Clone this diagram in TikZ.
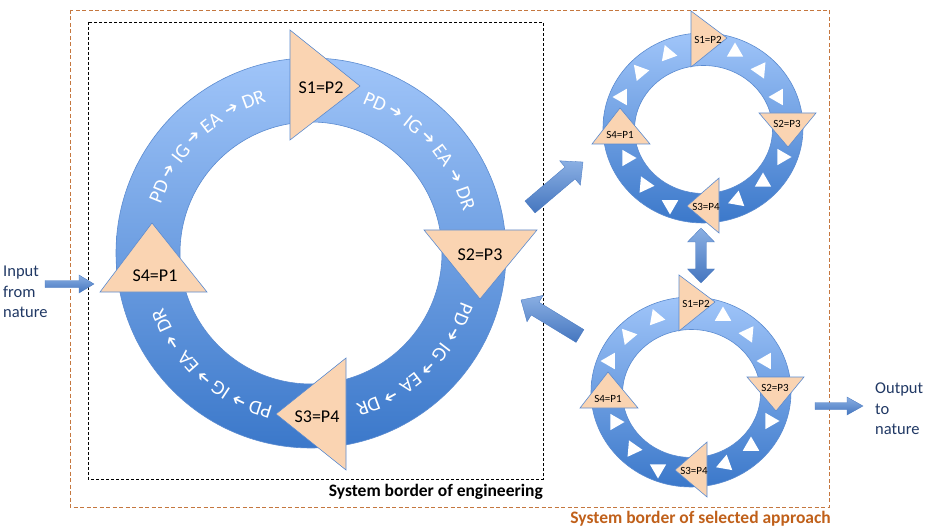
\documentclass[tikz,border=0pt]{standalone}
\usepackage{fontspec}
\setmainfont{Carlito}
\newfontfamily\arrowfont{DejaVu Sans}
\usetikzlibrary{calc,shapes.geometric}
\definecolor{peach}{HTML}{FAD4B2}
\definecolor{ringline}{HTML}{5B8BD0}
\definecolor{ringtop}{HTML}{A0C5F9}
\definecolor{ringbot}{HTML}{3B78CA}
\definecolor{arrtop}{HTML}{8AAFE3}
\definecolor{arrbot}{HTML}{4576BF}
\definecolor{navy}{HTML}{203864}
\definecolor{bordertwo}{HTML}{C5773F}
\definecolor{labelbrown}{HTML}{C0601A}
\tikzset{
  ringshade/.style={top color=ringtop, bottom color=ringbot, draw=ringline, line width=0.6pt, even odd rule},
  tri/.style={fill=peach, draw=ringline, line width=0.6pt, line join=miter},
  bigtxt/.style={font=\fontsize{18}{20}\selectfont, inner sep=0pt},
  smalltxt/.style={font=\fontsize{11}{12}\selectfont, inner sep=0pt},
  ringtxt/.style={font=\fontsize{20}{22}\selectfont, text=white, inner sep=0pt},
  ringarr/.style={font=\arrowfont\fontsize{16}{17}\selectfont, text=white, inner sep=0pt},
  wtri/.style={regular polygon, regular polygon sides=3, fill=white, minimum size=19pt, inner sep=0pt},
  blockarrow/.style={top color=arrtop, bottom color=arrbot, draw=arrbot, line width=0.3pt, line join=miter},
  engborder/.style={draw=black, line width=0.8pt, dash pattern=on 3pt off 2pt},
  appborder/.style={draw=bordertwo, line width=0.9pt, dash pattern=on 4pt off 2.5pt},
  sidetxt/.style={align=left, text=navy, font=\fontsize{16.5}{20.5}\selectfont, inner sep=0pt},
}
\newcommand\blockarr[5]{%
  \coordinate (#1-#2-h) at ($(#2)!#5!(#1)$);
  \shade[blockarrow] ($(#1)!#3!90:(#2)$) -- ($(#1-#2-h)!#3!90:(#2)$) -- ($(#1-#2-h)!#4!90:(#2)$) -- (#2)
    -- ($(#1-#2-h)!#4!-90:(#2)$) -- ($(#1-#2-h)!#3!-90:(#2)$) -- ($(#1)!#3!-90:(#2)$) -- cycle;
}
\newcommand\smallring[3]{%
  \begin{scope}[shift={(#2,#3)}]
    \shade[ringshade] (703,-128) ellipse[x radius=100, y radius=95] (703.5,-129.5) ellipse[x radius=69, y radius=64];
    \foreach \x/\y/\r [count=\k] in {668/54/-100, 640/72/160, 622/97/90, 735/52/0, 760/70/85, 778/97/90,
        627/158/-90, 645/185/-95, 670/205/180, 737/200/-10, 763/182/0, 782/157/-90}{
      \node[wtri, rotate=\r] (#1-w\k) at (\x,-\y) {};
    }
    \filldraw[tri] (691,-11) -- (691,-67) -- (727,-38) -- cycle;
    \filldraw[tri] (759,-113) -- (816,-113) -- (788,-147) -- cycle;
    \filldraw[tri] (719,-178) -- (719,-233) -- (687,-206) -- cycle;
    \filldraw[tri] (592,-144) -- (650,-144) -- (620,-108) -- cycle;
    \node[smalltxt] (#1-s1) at (708,-40) {S1=P2};
    \node[smalltxt] (#1-s2) at (787,-124) {S2=P3};
    \node[smalltxt] (#1-s3) at (706,-207) {S3=P4};
    \node[smalltxt] (#1-s4) at (620,-135) {S4=P1};
  \end{scope}
}
\begin{document}
\begin{tikzpicture}[x=1pt,y=1pt]
\useasboundingbox (0,0) rectangle (931,-529);
% borders
\draw[appborder] (70,-10) rectangle (829,-507);
\draw[engborder] (88,-22) rectangle (543,-479);
\node[font=\bfseries\fontsize{17.5}{19}\selectfont, anchor=east, inner sep=0pt] (englabel) at (543,-492) {System border of engineering};
\node[font=\bfseries\fontsize{17.5}{19}\selectfont, anchor=east, inner sep=0pt, text=labelbrown] (applabel) at (831,-519) {System border of selected approach};
% big ring
\coordinate (C) at (311,-253);
\shade[ringshade] (C) circle[radius=195] (C) circle[radius=131];
\foreach \c [count=\i] in {134,43,-46,-132}{
  \foreach \o/\t/\s [count=\j] in {-24/PD/ringtxt, -16/➔/ringarr, -8.5/IG/ringtxt, -1.5/➔/ringarr, 6.5/EA/ringtxt, 15/➔/ringarr, 23.5/DR/ringtxt}{
    \pgfmathsetmacro\a{\c-(\o)}
    \node[\s, rotate=\a-90] (tok-\i-\j) at ($(C)+(\a:164)$) {\t};
  }
}
\filldraw[tri] (290,-30) -- (290,-140) -- (360,-86) -- cycle;
\filldraw[tri] (424,-230) -- (537,-230) -- (480,-299) -- cycle;
\filldraw[tri] (346,-358) -- (346,-470) -- (276,-414) -- cycle;
\filldraw[tri] (100,-292) -- (207,-292) -- (152,-223) -- cycle;
\node[bigtxt] (bs1) at (321,-88) {S1=P2};
\node[bigtxt] (bs2) at (480,-255) {S2=P3};
\node[bigtxt] (bs3) at (317,-417) {S3=P4};
\node[bigtxt] (bs4) at (155,-276) {S4=P1};
% small rings
\smallring{top}{0}{0}
\smallring{bot}{-12}{-264}
% side texts
\node[sidetxt, anchor=west] (input) at (3,-292) {Input\\from\\nature};
\node[sidetxt, anchor=west] (output) at (875,-409) {Output\\to\\nature};
% block arrows
\coordinate (inT) at (45,-284); \coordinate (inH) at (94,-284);
\coordinate (outT) at (815,-406); \coordinate (outH) at (863,-406);
\coordinate (urT) at (530,-207); \coordinate (urH) at (583,-162);
\coordinate (ulT) at (580,-336); \coordinate (ulH) at (521,-300);
\blockarr{inT}{inH}{3.5pt}{9pt}{15pt}
\blockarr{outT}{outH}{3.5pt}{9pt}{16pt}
\blockarr{urT}{urH}{7.8pt}{16pt}{17pt}
\blockarr{ulT}{ulH}{7.5pt}{15.5pt}{16.5pt}
\coordinate (dT) at (701,-228); \coordinate (dB) at (701,-283);
\shade[blockarrow] (dT) -- ++(13.5,-14) -- ++(-8.2,0) -- ++(0,-27) -- ++(8.2,0) -- (dB) -- ++(-13.5,14) -- ++(8.2,0) -- ++(0,27) -- ++(-8.2,0) -- cycle;
\end{tikzpicture}
\end{document}
